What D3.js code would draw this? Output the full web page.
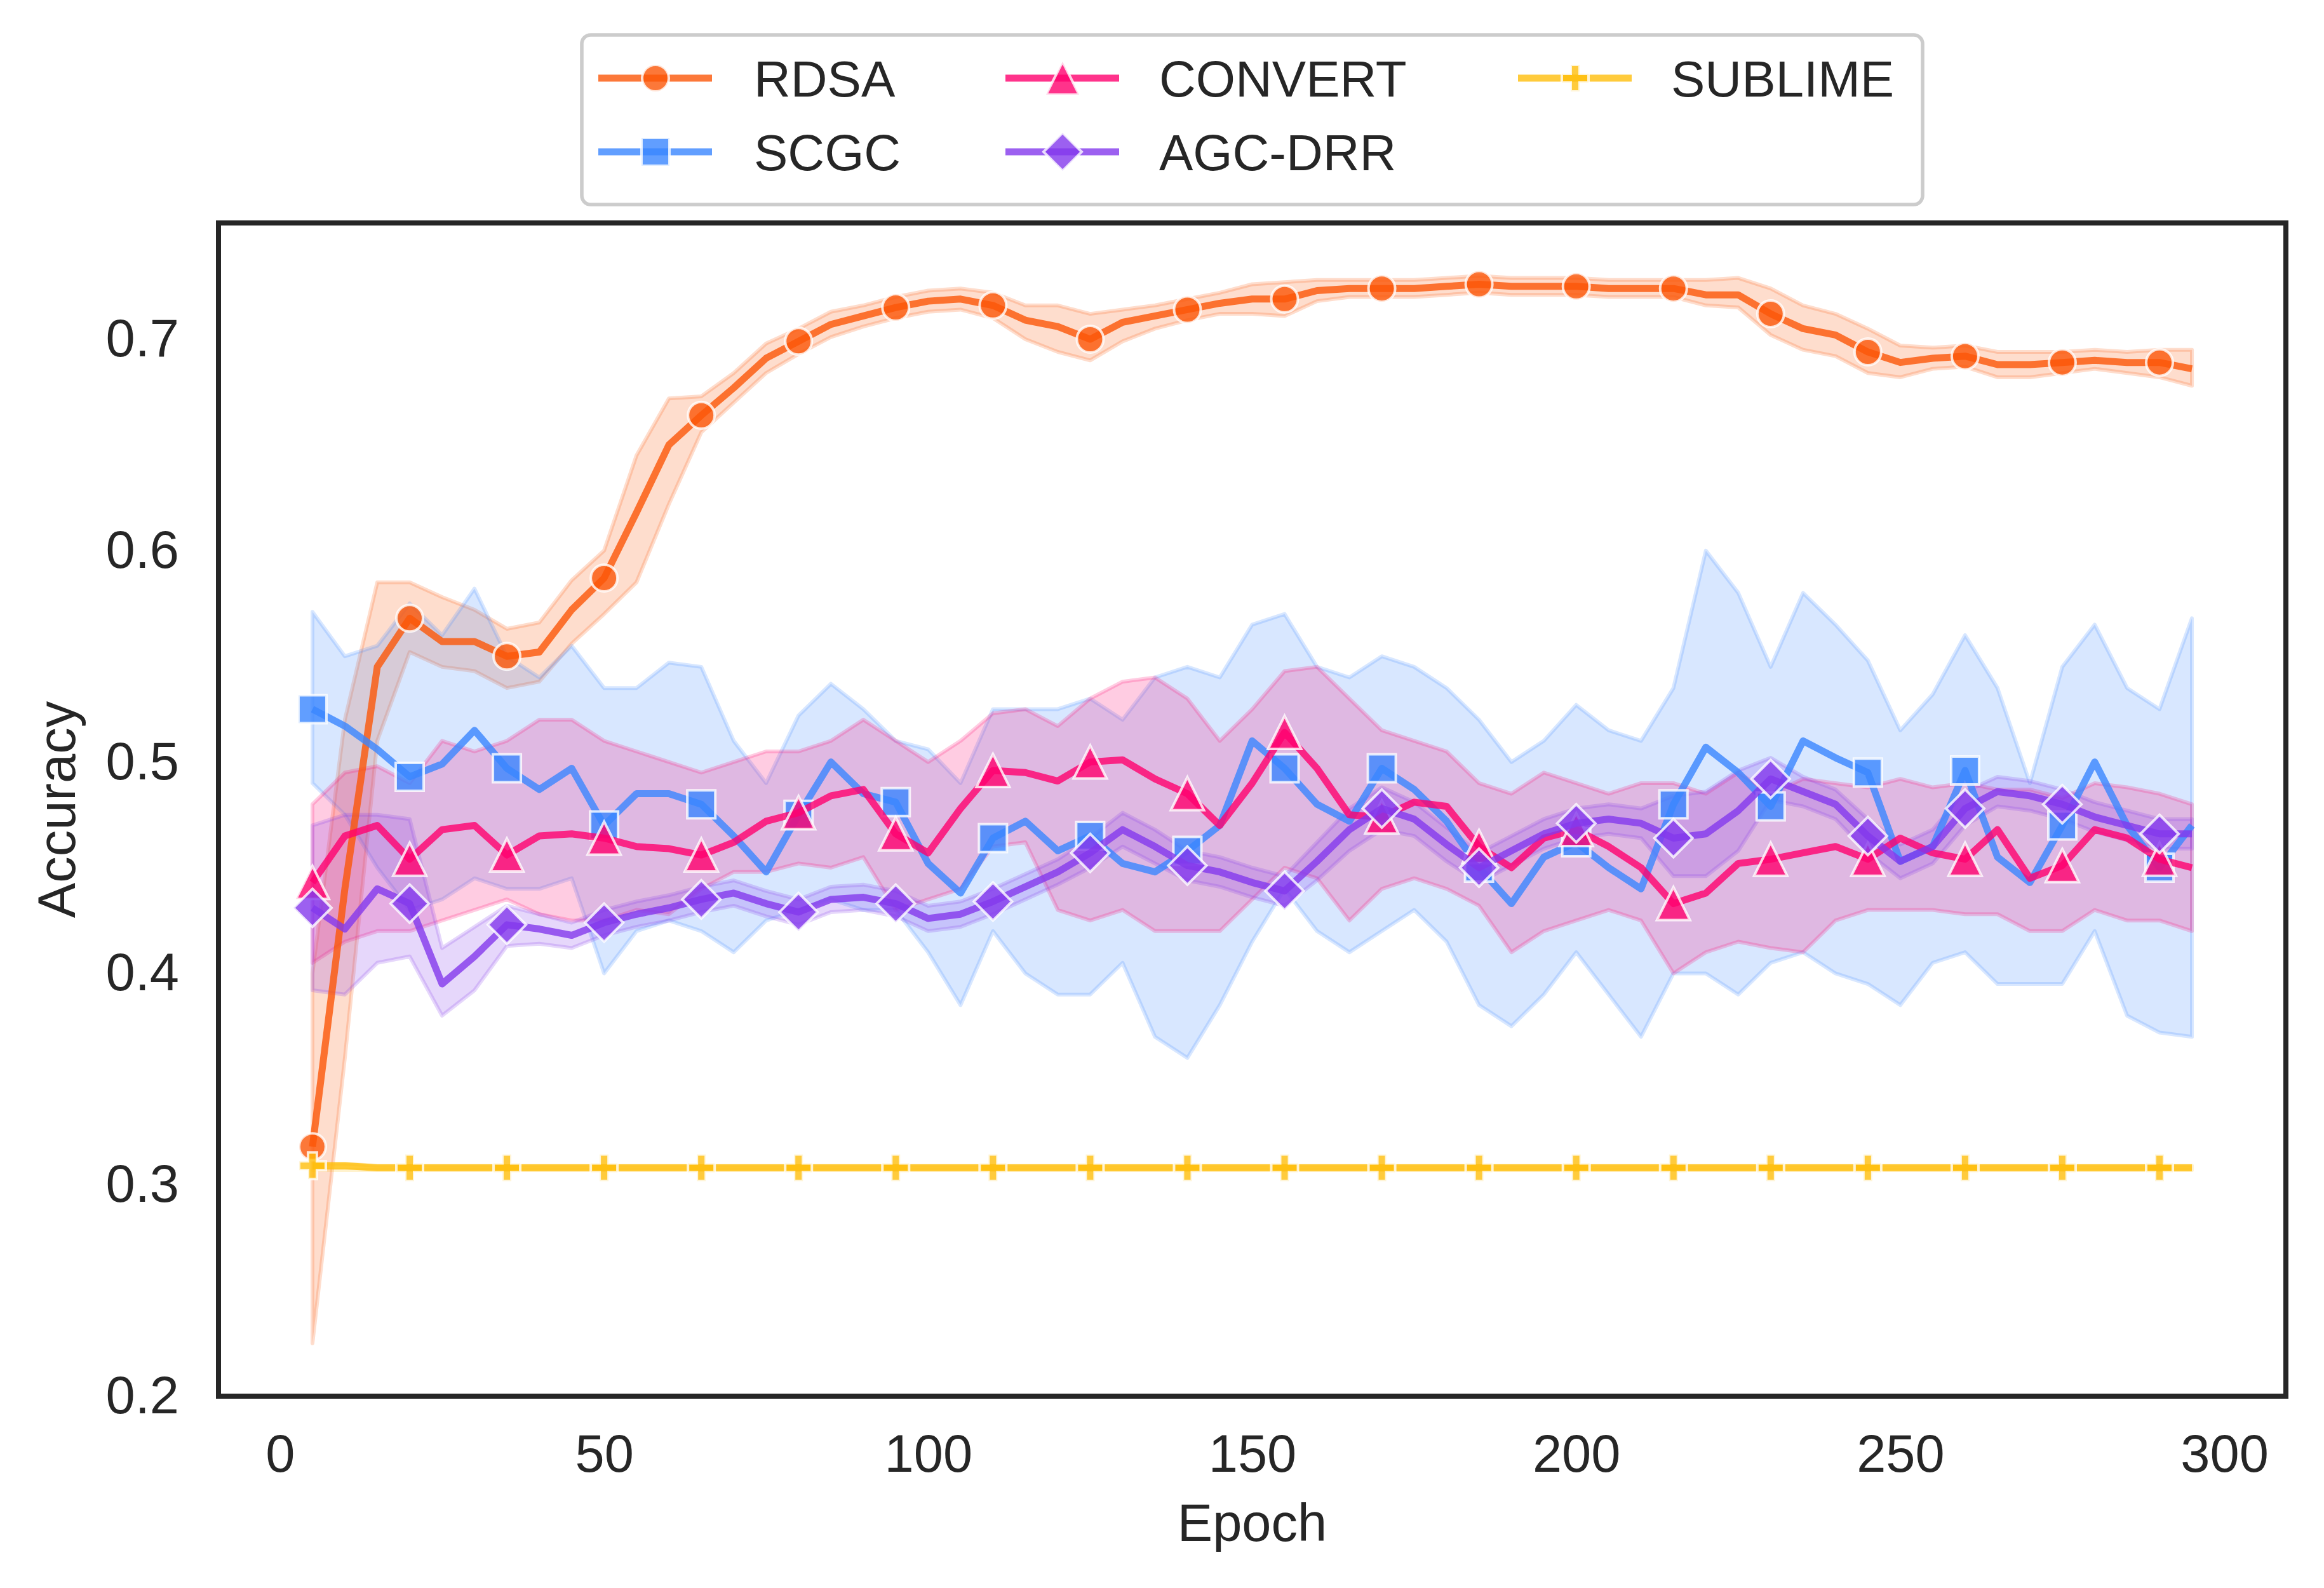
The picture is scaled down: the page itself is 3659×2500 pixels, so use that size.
<!DOCTYPE html>
<html>
<head>
<meta charset="utf-8">
<script src="https://cdn.jsdelivr.net/npm/d3@7"></script>
<style>
  body { margin: 0; background: #fff; }
  text { font-family: "Liberation Sans", Arial, sans-serif; fill: #262626; }
</style>
</head>
<body>
<div id="chart"></div>
<script>
// epochs sampled every 5, markers on every third point (5, 20, 35, ...)
const epochs = [5,10,15,20,25,30,35,40,45,50,55,60,65,70,75,80,85,90,95,100,
  105,110,115,120,125,130,135,140,145,150,155,160,165,170,175,180,185,190,195,200,
  205,210,215,220,225,230,235,240,245,250,255,260,265,270,275,280,285,290,295];

const seriesNames = ["RDSA", "SCGC", "CONVERT", "AGC-DRR", "SUBLIME"];

const rdsaMean = [0.318,0.440,0.545,0.568,0.557,0.557,0.550,0.552,0.572,0.587,
  0.618,0.650,0.664,0.677,0.691,0.699,0.707,0.711,0.715,0.718,
  0.719,0.716,0.709,0.706,0.700,0.708,0.711,0.714,0.717,0.719,
  0.719,0.723,0.724,0.724,0.724,0.725,0.726,0.725,0.725,0.725,
  0.724,0.724,0.724,0.721,0.721,0.712,0.705,0.702,0.694,0.689,
  0.691,0.692,0.688,0.688,0.689,0.690,0.689,0.689,0.686];
const rdsaLo = [0.225,0.360,0.510,0.552,0.545,0.543,0.535,0.538,0.556,0.570,
  0.585,0.622,0.656,0.670,0.684,0.693,0.701,0.706,0.710,0.713,
  0.714,0.710,0.700,0.694,0.690,0.699,0.705,0.709,0.712,0.712,
  0.711,0.718,0.720,0.720,0.720,0.721,0.722,0.721,0.721,0.721,
  0.720,0.720,0.720,0.716,0.715,0.702,0.695,0.692,0.684,0.682,
  0.686,0.687,0.682,0.682,0.684,0.686,0.684,0.682,0.678];
const rdsaHi = [0.400,0.520,0.585,0.585,0.578,0.572,0.563,0.566,0.586,0.600,
  0.645,0.672,0.673,0.684,0.698,0.705,0.713,0.716,0.720,0.723,
  0.724,0.722,0.716,0.716,0.712,0.714,0.716,0.719,0.722,0.726,
  0.727,0.728,0.728,0.728,0.728,0.729,0.730,0.729,0.729,0.729,
  0.728,0.728,0.728,0.728,0.729,0.724,0.716,0.712,0.705,0.697,
  0.696,0.697,0.694,0.694,0.694,0.695,0.694,0.695,0.695];

const scgcMean = [0.525,0.517,0.506,0.493,0.499,0.515,0.497,0.487,0.497,0.470,
  0.485,0.485,0.480,0.465,0.448,0.475,0.500,0.485,0.481,0.452,
  0.438,0.464,0.472,0.458,0.465,0.452,0.448,0.458,0.470,0.510,
  0.497,0.480,0.472,0.497,0.487,0.472,0.450,0.433,0.455,0.462,
  0.450,0.440,0.480,0.507,0.495,0.479,0.510,0.502,0.495,0.453,
  0.460,0.496,0.455,0.443,0.470,0.500,0.470,0.450,0.470];
const scgcLo = [0.490,0.475,0.450,0.430,0.435,0.445,0.440,0.440,0.445,0.400,
  0.420,0.425,0.420,0.410,0.425,0.430,0.435,0.430,0.430,0.410,
  0.385,0.420,0.400,0.390,0.390,0.405,0.370,0.360,0.385,0.415,
  0.440,0.420,0.410,0.420,0.430,0.415,0.385,0.375,0.390,0.410,
  0.390,0.370,0.400,0.400,0.390,0.405,0.410,0.400,0.395,0.385,
  0.405,0.410,0.395,0.395,0.395,0.420,0.380,0.372,0.370];
const scgcHi = [0.571,0.550,0.555,0.575,0.560,0.582,0.550,0.540,0.555,0.535,
  0.535,0.547,0.545,0.510,0.490,0.522,0.537,0.525,0.510,0.506,
  0.490,0.525,0.525,0.525,0.530,0.520,0.540,0.545,0.540,0.565,
  0.570,0.545,0.540,0.550,0.545,0.535,0.520,0.500,0.510,0.527,
  0.515,0.510,0.535,0.600,0.580,0.545,0.580,0.565,0.548,0.515,
  0.532,0.560,0.535,0.490,0.545,0.565,0.535,0.525,0.568];

const convertMean = [0.443,0.465,0.470,0.454,0.468,0.470,0.456,0.465,0.466,0.464,
  0.460,0.459,0.456,0.462,0.472,0.476,0.484,0.487,0.466,0.457,
  0.478,0.496,0.495,0.491,0.500,0.501,0.492,0.485,0.470,0.490,
  0.514,0.497,0.475,0.474,0.481,0.479,0.460,0.450,0.464,0.468,
  0.460,0.450,0.433,0.438,0.452,0.454,0.457,0.460,0.454,0.464,
  0.457,0.454,0.468,0.445,0.451,0.468,0.464,0.454,0.450];
const convertLo = [0.405,0.415,0.420,0.420,0.425,0.430,0.435,0.428,0.425,0.425,
  0.430,0.428,0.440,0.448,0.448,0.452,0.450,0.455,0.430,0.435,
  0.440,0.460,0.462,0.430,0.425,0.430,0.420,0.420,0.420,0.435,
  0.450,0.445,0.425,0.440,0.445,0.440,0.432,0.410,0.420,0.425,
  0.430,0.425,0.400,0.410,0.415,0.412,0.410,0.425,0.430,0.430,
  0.430,0.428,0.428,0.420,0.420,0.430,0.425,0.425,0.420];
const convertHi = [0.480,0.495,0.498,0.490,0.510,0.505,0.510,0.520,0.520,0.510,
  0.505,0.500,0.495,0.500,0.505,0.505,0.510,0.520,0.510,0.500,
  0.510,0.523,0.525,0.517,0.530,0.538,0.540,0.530,0.510,0.525,
  0.543,0.545,0.530,0.515,0.510,0.505,0.490,0.485,0.495,0.490,
  0.485,0.490,0.490,0.485,0.495,0.485,0.492,0.490,0.488,0.492,
  0.488,0.490,0.487,0.487,0.483,0.490,0.488,0.485,0.480];

const agcMean = [0.431,0.421,0.440,0.433,0.395,0.408,0.423,0.421,0.418,0.424,
  0.428,0.431,0.435,0.438,0.433,0.429,0.435,0.436,0.433,0.426,
  0.428,0.434,0.441,0.448,0.457,0.468,0.460,0.451,0.448,0.443,
  0.439,0.453,0.468,0.478,0.473,0.461,0.450,0.458,0.466,0.471,
  0.473,0.471,0.464,0.466,0.477,0.492,0.486,0.480,0.465,0.453,
  0.460,0.478,0.486,0.484,0.480,0.474,0.470,0.466,0.466];
const agcLo = [0.392,0.390,0.405,0.408,0.380,0.392,0.413,0.414,0.412,0.418,
  0.422,0.425,0.429,0.432,0.427,0.423,0.429,0.430,0.427,0.420,
  0.422,0.428,0.435,0.442,0.450,0.460,0.452,0.444,0.441,0.436,
  0.432,0.444,0.458,0.468,0.465,0.453,0.443,0.451,0.459,0.464,
  0.466,0.464,0.446,0.446,0.458,0.482,0.479,0.473,0.457,0.445,
  0.452,0.470,0.479,0.477,0.473,0.467,0.463,0.459,0.459];
const agcHi = [0.470,0.475,0.475,0.473,0.412,0.422,0.432,0.428,0.424,0.430,
  0.434,0.437,0.441,0.444,0.439,0.435,0.441,0.442,0.439,0.432,
  0.434,0.440,0.447,0.454,0.464,0.476,0.468,0.458,0.455,0.450,
  0.446,0.462,0.478,0.488,0.481,0.469,0.457,0.465,0.473,0.478,
  0.480,0.478,0.484,0.486,0.496,0.502,0.493,0.487,0.473,0.461,
  0.468,0.486,0.493,0.491,0.487,0.481,0.477,0.473,0.473];

const sublimeMean = [0.309,0.309,0.308,0.308,0.308,0.308,0.308,0.308,0.308,0.308,
  0.308,0.308,0.308,0.308,0.308,0.308,0.308,0.308,0.308,0.308,
  0.308,0.308,0.308,0.308,0.308,0.308,0.308,0.308,0.308,0.308,
  0.308,0.308,0.308,0.308,0.308,0.308,0.308,0.308,0.308,0.308,
  0.308,0.308,0.308,0.308,0.308,0.308,0.308,0.308,0.308,0.308,
  0.308,0.308,0.308,0.308,0.308,0.308,0.308,0.308,0.308];
const sublimeLo = [0.307,0.307,0.307,0.307,0.307,0.307,0.307,0.307,0.307,0.307,
  0.307,0.307,0.307,0.307,0.307,0.307,0.307,0.307,0.307,0.307,
  0.307,0.307,0.307,0.307,0.307,0.307,0.307,0.307,0.307,0.307,
  0.307,0.307,0.307,0.307,0.307,0.307,0.307,0.307,0.307,0.307,
  0.307,0.307,0.307,0.307,0.307,0.307,0.307,0.307,0.307,0.307,
  0.307,0.307,0.307,0.307,0.307,0.307,0.307,0.307,0.307];
const sublimeHi = [0.310,0.310,0.309,0.309,0.309,0.309,0.309,0.309,0.309,0.309,
  0.309,0.309,0.309,0.309,0.309,0.309,0.309,0.309,0.309,0.309,
  0.309,0.309,0.309,0.309,0.309,0.309,0.309,0.309,0.309,0.309,
  0.309,0.309,0.309,0.309,0.309,0.309,0.309,0.309,0.309,0.309,
  0.309,0.309,0.309,0.309,0.309,0.309,0.309,0.309,0.309,0.309,
  0.309,0.309,0.309,0.309,0.309,0.309,0.309,0.309,0.309];

const xTicks = [0, 50, 100, 150, 200, 250, 300];
const yTicks = [0.2, 0.3, 0.4, 0.5, 0.6, 0.7];

const colors = ["#fb5607", "#3a86ff", "#ff006e", "#8338ec", "#ffbe0b"];
const shapes = ["circle", "square", "triangle", "diamond", "plus"];

const series = seriesNames.map((name, i) => ({
  name: name,
  color: colors[i],
  shape: shapes[i],
  mean: [rdsaMean, scgcMean, convertMean, agcMean, sublimeMean][i],
  lo: [rdsaLo, scgcLo, convertLo, agcLo, sublimeLo][i],
  hi: [rdsaHi, scgcHi, convertHi, agcHi, sublimeHi][i]
}));

const W = 3659, H = 2500;
const plotL = 344, plotR = 3599, plotT = 351, plotB = 2198;
const fontSize = 83;

const svg = d3.select("#chart").append("svg")
  .attr("width", W)
  .attr("height", H)
  .style("display", "block");

const x = d3.scaleLinear().domain([-9.5, 309.5]).range([plotL, plotR]);
const y = d3.scaleLinear().domain([0.2, 0.755]).range([plotB, plotT]);

svg.append("clipPath").attr("id", "plotclip")
  .append("rect")
  .attr("x", plotL).attr("y", plotT)
  .attr("width", plotR - plotL).attr("height", plotB - plotT);

function markerPath(shape) {
  if (shape === "circle") return d3.symbol(d3.symbolCircle, Math.PI * 21 * 21)();
  if (shape === "square") return "M-22,-22L22,-22L22,22L-22,22Z";
  if (shape === "triangle") return "M0,-26L26,26L-26,26Z";
  if (shape === "diamond") return "M0,-30L30,0L0,30L-30,0Z";
  // filled plus
  return "M-7,-21L7,-21L7,-7L21,-7L21,7L7,7L7,21L-7,21L-7,7L-21,7L-21,-7L-7,-7Z";
}

const plot = svg.append("g").attr("clip-path", "url(#plotclip)");

// error bands sit under every line
const area = d3.area()
  .x((d, i) => x(epochs[i]))
  .y0(d => y(d[0]))
  .y1(d => y(d[1]));

series.forEach(s => {
  const band = s.lo.map((v, i) => [v, s.hi[i]]);
  plot.append("path")
    .datum(band)
    .attr("d", area)
    .attr("fill", s.color)
    .attr("fill-opacity", 0.2)
    .attr("stroke", s.color)
    .attr("stroke-opacity", 0.2)
    .attr("stroke-width", 6)
    .attr("stroke-linejoin", "round");
});

const line = d3.line()
  .x((d, i) => x(epochs[i]))
  .y(d => y(d));

series.forEach(s => {
  plot.append("path")
    .datum(s.mean)
    .attr("d", line)
    .attr("fill", "none")
    .attr("stroke", s.color)
    .attr("stroke-opacity", 0.8)
    .attr("stroke-width", 11)
    .attr("stroke-linejoin", "round");

  const pts = s.mean.map((v, i) => ({ e: epochs[i], v: v })).filter((d, i) => i % 3 === 0);
  plot.selectAll(null)
    .data(pts)
    .enter()
    .append("path")
    .attr("d", markerPath(s.shape))
    .attr("transform", d => `translate(${x(d.e)},${y(d.v)})`)
    .attr("fill", s.color)
    .attr("fill-opacity", 0.8)
    .attr("stroke", "#fff")
    .attr("stroke-opacity", 0.8)
    .attr("stroke-width", 4);
});

// axes without tick marks (seaborn white style)
const xAxis = svg.append("g")
  .attr("transform", `translate(0,${plotB})`)
  .call(d3.axisBottom(x).tickValues(xTicks).tickSize(0).tickPadding(60).tickFormat(d3.format("d")));
xAxis.select(".domain").remove();
xAxis.selectAll("text").style("font-size", fontSize + "px").attr("fill", "#262626");

const yAxis = svg.append("g")
  .attr("transform", `translate(${plotL},0)`)
  .call(d3.axisLeft(y).tickValues(yTicks).tickSize(0).tickPadding(62).tickFormat(d3.format(".1f")));
yAxis.select(".domain").remove();
yAxis.selectAll("text").style("font-size", fontSize + "px").attr("fill", "#262626");

svg.append("rect")
  .attr("x", plotL).attr("y", plotT)
  .attr("width", plotR - plotL).attr("height", plotB - plotT)
  .attr("fill", "none")
  .attr("stroke", "#262626")
  .attr("stroke-width", 8);

svg.append("text")
  .attr("x", (plotL + plotR) / 2)
  .attr("y", 2426)
  .attr("text-anchor", "middle")
  .style("font-size", fontSize + "px")
  .text("Epoch");

svg.append("text")
  .attr("transform", `translate(118,${(plotT + plotB) / 2}) rotate(-90)`)
  .attr("text-anchor", "middle")
  .style("font-size", fontSize + "px")
  .text("Accuracy");

// legend: 3 columns, filled column by column
const legend = svg.append("g");
legend.append("rect")
  .attr("x", 916).attr("y", 55)
  .attr("width", 2111).attr("height", 267)
  .attr("rx", 14)
  .attr("fill", "#fff")
  .attr("fill-opacity", 0.8)
  .attr("stroke", "#cccccc")
  .attr("stroke-width", 5.6);

const colHandle = [942, 1583, 2390];
const colText = [1187, 1825, 2631];
const rowY = [123, 239];

series.forEach((s, i) => {
  const col = Math.floor(i / 2), row = i % 2;
  const g = legend.append("g").attr("transform", `translate(0,${rowY[row]})`);
  g.append("line")
    .attr("x1", colHandle[col]).attr("x2", colHandle[col] + 179)
    .attr("y1", 0).attr("y2", 0)
    .attr("stroke", s.color)
    .attr("stroke-opacity", 0.8)
    .attr("stroke-width", 11);
  g.append("path")
    .attr("d", markerPath(s.shape))
    .attr("transform", `translate(${colHandle[col] + 90},0)`)
    .attr("fill", s.color)
    .attr("fill-opacity", 0.8)
    .attr("stroke", "#fff")
    .attr("stroke-opacity", 0.8)
    .attr("stroke-width", 4);
  g.append("text")
    .attr("x", colText[col])
    .attr("y", 29)
    .style("font-size", "80px")
    .text(s.name);
});
</script>
</body>
</html>
